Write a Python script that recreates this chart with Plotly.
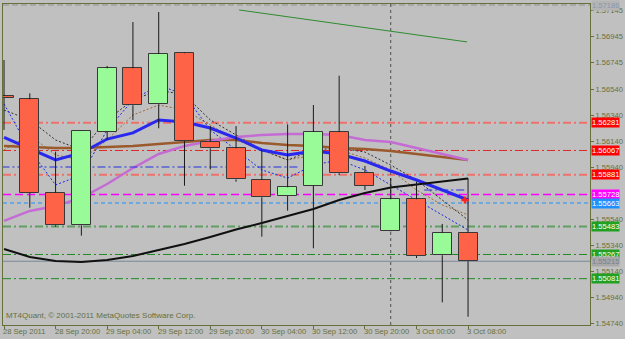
import plotly.graph_objects as go

# ---------------- data ----------------
idx = list(range(19))
open_ = [1.56486, 1.56461, 1.55742, 1.55492, 1.56212, 1.56699, 1.56422, 1.56815, 1.56135, 1.56084,
         1.55840, 1.55717, 1.55794, 1.56209, 1.55896, 1.55448, 1.55692, 1.55261, 1.55435]
high = [1.56763, 1.56507, 1.56058, 1.56220, 1.56717, 1.57055, 1.57132, 1.56820, 1.56255, 1.56255,
        1.56071, 1.56268, 1.56417, 1.56642, 1.55948, 1.55855, 1.55827, 1.55502, 1.55853]
low = [1.56225, 1.55627, 1.55481, 1.55412, 1.56148, 1.56302, 1.56238, 1.55796, 1.55922, 1.55827,
       1.55404, 1.55604, 1.55315, 1.55878, 1.55763, 1.55445, 1.55240, 1.54899, 1.54788]
close = [1.56471, 1.55742, 1.55492, 1.56217, 1.56699, 1.56415, 1.56809, 1.56140, 1.56084, 1.55845,
         1.55707, 1.55784, 1.56209, 1.55892, 1.55794, 1.55692, 1.55255, 1.55435, 1.55215]

ma_black = [1.55309, 1.55248, 1.55217, 1.55209, 1.55225, 1.55255, 1.55302, 1.55348, 1.55402, 1.55459,
            1.55509, 1.55563, 1.55617, 1.55686, 1.55740, 1.55782, 1.55805, 1.55825, 1.55852]
ma_blue = [1.56167, 1.56078, 1.55994, 1.56048, 1.56155, 1.56202, 1.56302, 1.56286, 1.56240, 1.56163,
           1.56071, 1.56032, 1.56063, 1.56040, 1.55986, 1.55909, 1.55840, 1.55763, 1.55686]
ma_violet = [1.55525, 1.55602, 1.55640, 1.55702, 1.55809, 1.55932, 1.56040, 1.56102, 1.56140, 1.56171,
             1.56186, 1.56194, 1.56194, 1.56186, 1.56148, 1.56132, 1.56086, 1.56040, 1.55994]
ma_brown = [1.56102, 1.56094, 1.56086, 1.56086, 1.56094, 1.56102, 1.56117, 1.56132, 1.56148, 1.56148,
            1.56125, 1.56109, 1.56102, 1.56086, 1.56078, 1.56063, 1.56040, 1.56017, 1.55994]
dot_blue = [1.56425, 1.56071, 1.55802, 1.55878, 1.56225, 1.56455, 1.56571, 1.56494, 1.56225, 1.56071,
            1.55917, 1.55855, 1.55955, 1.55994, 1.55917, 1.55802, 1.55686, 1.55571, 1.55455]
dot_gray = [1.56378, 1.56302, 1.56148, 1.56071, 1.56302, 1.56455, 1.56532, 1.56494, 1.56302, 1.56186,
            1.56071, 1.55994, 1.56071, 1.56086, 1.56055, 1.55955, 1.55840, 1.55686, 1.55532]
dot_tan = [1.56071, 1.56186, 1.56032, 1.55994, 1.56148, 1.56340, 1.56417, 1.56378, 1.56263, 1.56148,
           1.56071, 1.55994, 1.56032, 1.56071, 1.56009, 1.55917, 1.55763, 1.55648, 1.55571]

trend_x = [9.12, 17.96]
trend_y = [1.57148, 1.56902]
pivot1_x = [-0.1, 11.4]
pivot1_y = [1.55940, 1.55940]
pivot2_x = [16.3, 17.96]
pivot2_y = [1.55763, 1.55763]
signal_x = [17.88]
signal_y = [1.55686]

levels = [1.56281, 1.56067, 1.55881, 1.55728, 1.55663, 1.55483, 1.55267, 1.55215, 1.55081, 1.57186]
separator_idx = [15]

x_tick_idx = [0, 2, 4, 6, 8, 10, 12, 14, 16, 18]
x_tick_text = ["28 Sep 2011", "28 Sep 20:00", "29 Sep 04:00", "29 Sep 12:00", "29 Sep 20:00",
               "30 Sep 04:00", "30 Sep 12:00", "30 Sep 20:00", "3 Oct 00:00", "3 Oct 08:00"]
y_tick_vals = [1.57145, 1.56945, 1.56745, 1.56540, 1.56340, 1.56140, 1.55940,
               1.55540, 1.55340, 1.55140, 1.54940, 1.54740]
copyright_text = "MT4Quant, © 2001-2011 MetaQuotes Software Corp."

# ---------------- styles ----------------
BG = "#C0C0C0"
FG = "#66703C"
FONT = "Liberation Sans"
FS = 7.6
level_styles = [
    dict(color="#F07068", width=2, dash="8px,3px,2px,3px", box="#FF0000", txt="#FFFFFF"),
    dict(color="#E02828", width=1, dash="8px,3px,2px,3px", box="#FF0000", txt="#FFFFFF"),
    dict(color="#F07068", width=2, dash="8px,3px,2px,3px", box="#FF0000", txt="#FFFFFF"),
    dict(color="#FF00FF", width=1.5, dash="8px,4px", box="#FF00FF", txt="#FFFFFF"),
    dict(color="#1E90FF", width=1, dash="4px,3px", box="#1E90FF", txt="#FFFFFF"),
    dict(color="#5FA060", width=2, dash="8px,3px,2px,3px", box="#22A022", txt="#FFFFFF"),
    dict(color="#208A20", width=1, dash="8px,3px,2px,3px", box="#22A022", txt="#FFFFFF"),
    dict(color="#7A8898", width=1, dash="solid", box="#A8A8A8", txt="#7A8090"),
    dict(color="#208A20", width=1, dash="8px,3px,2px,3px", box="#22A022", txt="#FFFFFF"),
    dict(color="#909090", width=1, dash="6px,3px", box="#B4B4B4", txt="#8898B0"),
]

XR = [-0.04, 22.73]
YR = [1.547246, 1.571938]

fig = go.Figure()

# thin dotted envelope lines
for arr, col in [(dot_tan, "#9A6838"), (dot_gray, "#303030"), (dot_blue, "#1828E8")]:
    fig.add_trace(go.Scatter(x=idx, y=arr, mode="lines",
                             line=dict(color=col, width=1, dash="2px,2px"), hoverinfo="skip"))

# moving averages
fig.add_trace(go.Scatter(x=idx, y=ma_brown, mode="lines", line=dict(color="#9A5A2C", width=2.5)))
fig.add_trace(go.Scatter(x=idx, y=ma_violet, mode="lines", line=dict(color="#C46CD4", width=2.5)))
fig.add_trace(go.Scatter(x=idx, y=ma_blue, mode="lines", line=dict(color="#2828F0", width=3)))
fig.add_trace(go.Scatter(x=idx, y=ma_black, mode="lines", line=dict(color="#101010", width=2)))

# trend line and pivot segments
fig.add_trace(go.Scatter(x=trend_x, y=trend_y, mode="lines", line=dict(color="#2E8B2E", width=1)))
fig.add_trace(go.Scatter(x=pivot1_x, y=pivot1_y, mode="lines",
                         line=dict(color="#2030E0", width=1, dash="8px,3px,2px,3px")))
fig.add_trace(go.Scatter(x=pivot2_x, y=pivot2_y, mode="lines",
                         line=dict(color="#2030E0", width=1, dash="8px,3px,2px,3px")))

# candles on an overlaid subplot so they sit above the indicator lines
wx, wy = [], []
for i, o, h, l, c in zip(idx, open_, high, low, close):
    top, bot = max(o, c), min(o, c)
    wx += [i, i, None, i, i, None]
    wy += [h, top, None, bot, l, None]
fig.add_trace(go.Scatter(x=wx, y=wy, mode="lines", line=dict(color="#1A1A1A", width=1),
                         xaxis="x2", yaxis="y2"))
fig.add_trace(go.Bar(
    x=idx,
    y=[abs(c - o) for o, c in zip(open_, close)],
    base=[min(o, c) for o, c in zip(open_, close)],
    width=0.74,
    marker=dict(color=["#98FB98" if c >= o else "#FF6347" for o, c in zip(open_, close)],
                line=dict(color="#383838", width=1)),
    xaxis="x2", yaxis="y2"))
fig.add_trace(go.Scatter(x=signal_x, y=signal_y, mode="markers",
                         marker=dict(symbol="cross", size=6, color="#FF2020"),
                         xaxis="x2", yaxis="y2"))

# horizontal levels + price boxes
for lv, st in zip(levels, level_styles):
    fig.add_shape(type="line", xref="paper", x0=0, x1=1, yref="y", y0=lv, y1=lv, layer="below",
                  line=dict(color=st["color"], width=st["width"], dash=st["dash"]))
    fig.add_annotation(xref="paper", x=1, xanchor="left", xshift=1, yref="y", y=lv, yanchor="middle",
                       text=f"{lv:.5f}", showarrow=False, bgcolor=st["box"], borderpad=0,
                       font=dict(family=FONT, size=FS, color=st["txt"]))

# period separator
for s in separator_idx:
    fig.add_shape(type="line", xref="x", x0=s, x1=s, yref="paper", y0=0, y1=1, layer="below",
                  line=dict(color="#505050", width=1, dash="3px,3px"))

# x labels (left-aligned at the tick, MT4 style)
for t, txt in zip(x_tick_idx, x_tick_text):
    fig.add_annotation(xref="x", x=t, xanchor="left", xshift=-2, yref="paper", y=0, yanchor="top",
                       yshift=-1, text=txt, showarrow=False, borderpad=0,
                       font=dict(family=FONT, size=FS, color=FG))

fig.add_annotation(xref="paper", x=0, xanchor="left", xshift=2, yref="paper", y=0, yanchor="bottom",
                   yshift=4, text=copyright_text, showarrow=False, borderpad=0,
                   font=dict(family=FONT, size=8, color=FG))

axis_common = dict(showgrid=False, zeroline=False)
fig.update_layout(
    width=625, height=339,
    margin=dict(l=2, r=31, t=4, b=14),
    paper_bgcolor=BG, plot_bgcolor=BG,
    showlegend=False, bargap=0,
    xaxis=dict(range=XR, tickvals=x_tick_idx, ticktext=[""] * len(x_tick_idx),
               ticks="outside", ticklen=3, tickcolor=FG, showline=True, linecolor=FG,
               linewidth=1, mirror=True, fixedrange=True, **axis_common),
    yaxis=dict(range=YR, side="right", tickvals=y_tick_vals,
               ticktext=[f"{v:.5f}" for v in y_tick_vals],
               ticks="outside", ticklen=3, tickcolor=FG, showline=True, linecolor=FG,
               linewidth=1, mirror=True, tickfont=dict(family=FONT, size=FS, color=FG),
               fixedrange=True, **axis_common),
    xaxis2=dict(range=XR, overlaying="x", visible=False, **axis_common),
    yaxis2=dict(range=YR, overlaying="y", visible=False, **axis_common),
)

fig.write_html("out.html")
